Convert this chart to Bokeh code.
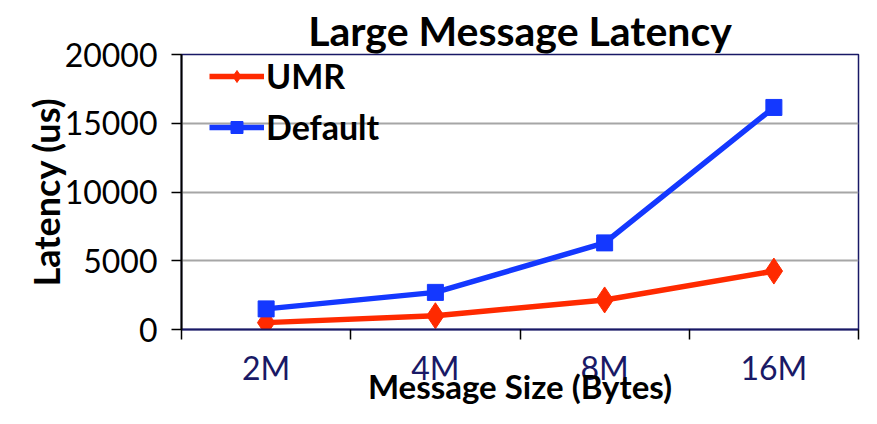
from bokeh.plotting import figure
from bokeh.models import FixedTicker, Range1d, Legend, LegendItem
from bokeh.embed import file_html
from bokeh.resources import INLINE

title_text = "Large Message Latency"
categories = ["2M", "4M", "8M", "16M"]
umr = [500, 1000, 2150, 4250]
default = [1500, 2700, 6300, 16150]
y_ticks = [0, 5000, 10000, 15000, 20000]

xs = [i + 0.5 for i in range(len(categories))]
FONT = "Lato"
RED = "#ff2a00"
BLUE = "#1438ff"
NAVY = "#191966"

p = figure(width=861, height=408, output_backend="svg", toolbar_location=None,
           x_range=Range1d(0, len(categories)), y_range=Range1d(0, y_ticks[-1]),
           min_border_left=181, min_border_right=3, min_border_top=54, min_border_bottom=78,
           title=title_text)

p.title.align = "center"
p.title.text_font = FONT
p.title.text_font_size = "41px"
p.title.text_font_style = "bold"
p.title.text_color = "black"
p.title.offset = 0
p.title.standoff = 0

p.outline_line_color = NAVY
p.outline_line_width = 1.5

xa = p.xaxis[0]
xa.ticker = FixedTicker(ticks=xs, minor_ticks=list(range(len(categories) + 1)))
xa.major_label_overrides = {x: c for x, c in zip(xs, categories)}
xa.major_tick_line_color = None
xa.minor_tick_line_color = "black"
xa.minor_tick_line_width = 1.5
xa.minor_tick_out = 10
xa.minor_tick_in = 0
xa.axis_line_color = NAVY
xa.axis_line_width = 2
xa.major_label_text_font = FONT
xa.major_label_text_font_size = "32px"
xa.major_label_text_color = NAVY
xa.major_label_standoff = 8
xa.axis_label = "Message Size (Bytes)"
xa.axis_label_text_font = FONT
xa.axis_label_text_font_size = "33px"
xa.axis_label_text_font_style = "bold"
xa.axis_label_text_color = "black"
xa.axis_label_standoff = -24

ya = p.yaxis[0]
ya.ticker = FixedTicker(ticks=y_ticks)
ya.minor_tick_line_color = None
ya.major_tick_out = 10
ya.major_tick_in = 0
ya.major_tick_line_width = 1.5
ya.axis_line_color = "black"
ya.axis_line_width = 2
ya.major_label_text_font = FONT
ya.major_label_text_font_size = "32px"
ya.major_label_text_color = "black"
ya.major_label_standoff = 14
ya.axis_label = "Latency (us)"
ya.axis_label_text_font = FONT
ya.axis_label_text_font_size = "36px"
ya.axis_label_text_font_style = "bold"
ya.axis_label_text_color = "black"
ya.axis_label_standoff = -6

p.xgrid.grid_line_color = None
p.ygrid.grid_line_color = "#a6a6a6"
p.ygrid.grid_line_width = 2

l1 = p.line(xs, umr, line_color=RED, line_width=5.5)
m1 = p.scatter(xs, umr, marker="diamond", size=26, fill_color=RED, line_color=RED)
l2 = p.line(xs, default, line_color=BLUE, line_width=5.5)
m2 = p.scatter(xs, default, marker="square", size=16, fill_color=BLUE, line_color=BLUE)

legend = Legend(items=[LegendItem(label="UMR", renderers=[l1, m1]),
                       LegendItem(label="Default", renderers=[l2, m2])],
                location=(28, 182))
legend.background_fill_alpha = 0
legend.border_line_color = None
legend.label_text_font = FONT
legend.label_text_font_size = "34px"
legend.label_text_font_style = "bold"
legend.label_text_color = "black"
legend.glyph_width = 55
legend.glyph_height = 30
legend.spacing = 10
legend.margin = 0
legend.padding = 0
legend.label_standoff = 2
p.add_layout(legend)

open("out.html", "w").write(file_html(p, INLINE))
